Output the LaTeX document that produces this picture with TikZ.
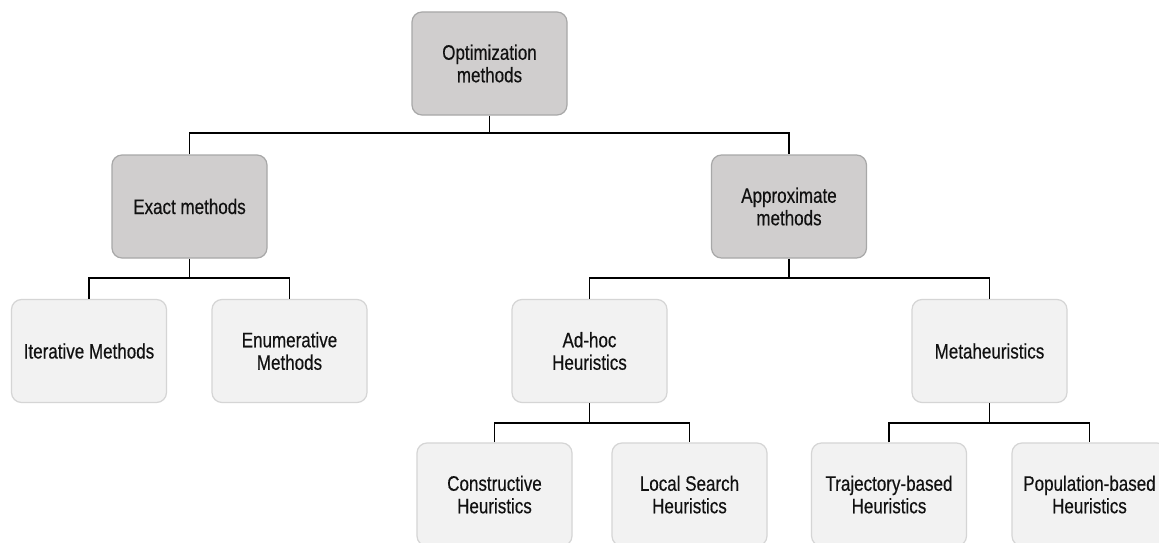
\documentclass[tikz,border=0pt]{standalone}
\usepackage{fontspec}
\setmainfont{Liberation Sans}[FakeStretch=0.81, FakeBold=0.4]
\usetikzlibrary{positioning}
\definecolor{darkfill}{HTML}{D0CECE}
\definecolor{darkline}{HTML}{A8A8A8}
\definecolor{lightfill}{HTML}{F2F2F2}
\definecolor{lightline}{HTML}{D5D5D5}
\definecolor{ink}{HTML}{111111}
\tikzset{
  box/.style={rounded corners=10pt, minimum width=155pt, minimum height=103pt,
    line width=1.2pt, align=center, text=ink,
    font=\fontsize{21pt}{22.5pt}\selectfont, inner sep=0pt},
  mainbox/.style={box, fill=darkfill, draw=darkline},
  subbox/.style={box, fill=lightfill, draw=lightline},
  link/.style={draw=black, line width=1.2pt}
}
\begin{document}
\begin{tikzpicture}[x=1pt, y=-1pt]
\useasboundingbox (0,0) rectangle (1159,543);
\fill[white] (0,0) rectangle (1159,543);
\clip (0,0) rectangle (1159,543);

% level 0 and 1
\node[mainbox] (opt)    at (489.5,63.5)  {Optimization\\methods};
\node[mainbox] (exact)  at (189.5,206.5) {Exact methods};
\node[mainbox] (approx) at (789,206.5)   {Approximate\\methods};

% level 2
\node[subbox] (iter)  at (89,351)    {Iterative Methods};
\node[subbox] (enum)  at (289.5,351) {Enumerative\\Methods};
\node[subbox] (adhoc) at (589.5,351) {Ad-hoc\\Heuristics};
\node[subbox] (meta)  at (989.5,351) {Metaheuristics};

% level 3
\node[subbox] (cons)  at (494.5,494.5)  {Constructive\\Heuristics};
\node[subbox] (local) at (689.5,494.5)  {Local Search\\Heuristics};
\node[subbox] (traj)  at (889,494.5)    {Trajectory-based\\Heuristics};
\node[subbox] (pop)   at (1089.5,494.5) {Population-based\\Heuristics};

% bus coordinates of the tree connectors
\coordinate (b0) at (489.5,133);
\coordinate (b1) at (189.5,278);
\coordinate (b2) at (789,278);
\coordinate (b3) at (589.5,423);
\coordinate (b4) at (989.5,423);

\draw[link] (opt.south) -- (b0);
\draw[link] (exact.north) |- (b0) -| (approx.north);

\draw[link] (exact.south) -- (b1);
\draw[link] (iter.north) |- (b1) -| (enum.north);

\draw[link] (approx.south) -- (b2);
\draw[link] (adhoc.north) |- (b2) -| (meta.north);

\draw[link] (adhoc.south) -- (b3);
\draw[link] (cons.north) |- (b3) -| (local.north);

\draw[link] (meta.south) -- (b4);
\draw[link] (traj.north) |- (b4) -| (pop.north);
\end{tikzpicture}
\end{document}
